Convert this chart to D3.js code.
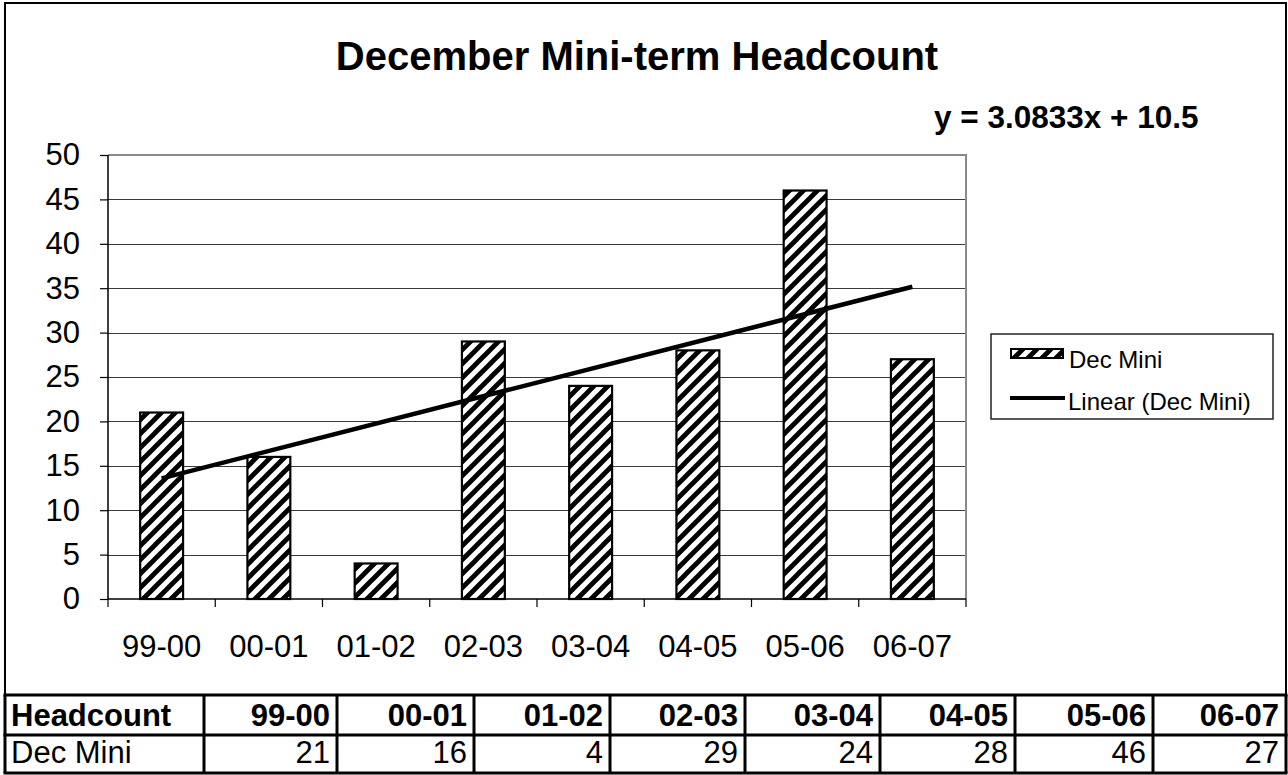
<!DOCTYPE html>
<html>
<head>
<meta charset="utf-8">
<script src="https://cdn.jsdelivr.net/npm/d3@7/dist/d3.min.js"></script>
<style>
  html, body { margin: 0; padding: 0; background: #fff; }
  svg { display: block; font-family: "Liberation Sans", Arial, sans-serif; }
</style>
</head>
<body>
<svg id="chart" width="1288" height="775"></svg>
<script>
// ---- data ----
const chartTitle = "December Mini-term Headcount";
const categories = ["99-00", "00-01", "01-02", "02-03", "03-04", "04-05", "05-06", "06-07"];
const decMini = [21, 16, 4, 29, 24, 28, 46, 27];
const seriesName = "Dec Mini";
const trendName = "Linear (Dec Mini)";
const yTickValues = [0, 5, 10, 15, 20, 25, 30, 35, 40, 45, 50];
const tableHeaderLabel = "Headcount";

// ---- layout ----
const plot = { left: 108, right: 966, top: 155, bottom: 599 };
const svg = d3.select("#chart");

// hatch pattern
const P = 14;
const defs = svg.append("defs");
const pat = defs.append("pattern")
  .attr("id", "hatch").attr("patternUnits", "userSpaceOnUse")
  .attr("width", P).attr("height", P);
pat.append("rect").attr("width", P).attr("height", P).attr("fill", "#fff");
pat.append("path")
  .attr("d", `M${-P/4},${P/4} L${P/4},${-P/4} M0,${P} L${P},0 M${P*3/4},${P*5/4} L${P*5/4},${P*3/4}`)
  .attr("stroke", "#000").attr("stroke-width", 4.8).attr("stroke-linecap", "square");

// outer chart frame
svg.append("rect").attr("x", 5).attr("y", 3).attr("width", 1281).attr("height", 692)
  .attr("fill", "#fff").attr("stroke", "#000").attr("stroke-width", 2);

// scales
const x = d3.scaleBand().domain(categories).range([plot.left, plot.right])
  .paddingInner(0.6).paddingOuter(0.3);
const y = d3.scaleLinear().domain([0, 50]).range([plot.bottom, plot.top]);
const step = x.step();

// gridlines
svg.append("g").selectAll("line").data(yTickValues.filter(v => v > 0 && v < 50)).join("line")
  .attr("x1", plot.left).attr("x2", plot.right)
  .attr("y1", d => Math.round(y(d)) + 0.5).attr("y2", d => Math.round(y(d)) + 0.5)
  .attr("stroke", "#3a3a3a").attr("stroke-width", 1);

// plot border top/right (gray)
svg.append("path")
  .attr("d", `M${plot.left},${plot.top} H${plot.right} V${plot.bottom}`)
  .attr("fill", "none").attr("stroke", "#8a8a8a").attr("stroke-width", 2);

// bars
svg.append("g").selectAll("rect").data(decMini).join("rect")
  .attr("x", (d, i) => x(categories[i]))
  .attr("y", d => y(d))
  .attr("width", x.bandwidth())
  .attr("height", d => y(0) - y(d))
  .attr("fill", "url(#hatch)")
  .attr("stroke", "#000").attr("stroke-width", 2.2);

// y axis
const yAxis = d3.axisLeft(y).tickValues(yTickValues).tickSize(8).tickPadding(20);
const gy = svg.append("g").attr("transform", `translate(${plot.left},0)`).call(yAxis);
gy.select(".domain").attr("stroke", "#000").attr("stroke-width", 1.5).attr("d", `M0,${plot.top}V${plot.bottom}`);
gy.selectAll(".tick line").attr("stroke", "#000").attr("stroke-width", 1.2);
gy.selectAll(".tick text").attr("font-size", 31).attr("fill", "#000")
  .attr("font-family", '"Liberation Sans", Arial, sans-serif');

// x axis (ticks between categories)
const boundaries = d3.range(categories.length + 1).map(i => plot.left + i * step);
svg.append("line").attr("x1", plot.left).attr("x2", plot.right)
  .attr("y1", plot.bottom).attr("y2", plot.bottom).attr("stroke", "#000").attr("stroke-width", 1.5);
svg.append("g").selectAll("line").data(boundaries).join("line")
  .attr("x1", d => d).attr("x2", d => d)
  .attr("y1", plot.bottom).attr("y2", plot.bottom + 8)
  .attr("stroke", "#000").attr("stroke-width", 1.2);
svg.append("g").selectAll("text").data(categories).join("text")
  .attr("x", d => x(d) + x.bandwidth() / 2).attr("y", 657)
  .attr("text-anchor", "middle").attr("font-size", 31).text(d => d);

// linear trend (least squares)
const xs = decMini.map((d, i) => i + 1);
const mx = d3.mean(xs), my = d3.mean(decMini);
const slope = d3.sum(xs, (v, i) => (v - mx) * (decMini[i] - my)) / d3.sum(xs, v => (v - mx) ** 2);
const intercept = my - slope * mx;
const trendPts = xs.map((v, i) => [x(categories[i]) + x.bandwidth() / 2, y(intercept + slope * v)]);
const tp = [trendPts[0], trendPts[trendPts.length - 1]];
svg.append("path").attr("d", d3.line()(tp))
  .attr("stroke", "#000").attr("stroke-width", 4.5).attr("fill", "none");

// equation
const fmt = v => (+v.toFixed(4)).toString();
svg.append("text").attr("x", 934).attr("y", 128)
  .attr("font-size", 31.5).attr("font-weight", "bold")
  .text(`y = ${fmt(slope)}x + ${fmt(intercept)}`);

// title
svg.append("text").attr("x", 637).attr("y", 70).attr("text-anchor", "middle")
  .attr("font-size", 40).attr("font-weight", "bold").text(chartTitle);

// legend
const lg = svg.append("g");
lg.append("rect").attr("x", 991).attr("y", 334).attr("width", 282).attr("height", 85)
  .attr("fill", "#fff").attr("stroke", "#222").attr("stroke-width", 1.5);
lg.append("rect").attr("x", 1011).attr("y", 349).attr("width", 52).attr("height", 9)
  .attr("fill", "url(#hatch)").attr("stroke", "#000").attr("stroke-width", 2);
lg.append("text").attr("x", 1069).attr("y", 368).attr("font-size", 24).text(seriesName);
lg.append("line").attr("x1", 1010).attr("x2", 1065).attr("y1", 398).attr("y2", 398)
  .attr("stroke", "#000").attr("stroke-width", 4);
lg.append("text").attr("x", 1068).attr("y", 410).attr("font-size", 24).text(trendName);

// data table
const colEdges = [5, 204, 337, 474, 610, 745, 880, 1015, 1153, 1286];
const rowEdges = [695, 735, 773];
const tg = svg.append("g");
tg.append("rect").attr("x", colEdges[0]).attr("y", rowEdges[0])
  .attr("width", colEdges[colEdges.length - 1] - colEdges[0]).attr("height", rowEdges[2] - rowEdges[0])
  .attr("fill", "#fff");
tg.selectAll("line.h").data(rowEdges).join("line").attr("class", "h")
  .attr("x1", colEdges[0] - 1.5).attr("x2", colEdges[colEdges.length - 1] + 1.5)
  .attr("y1", d => d).attr("y2", d => d).attr("stroke", "#000").attr("stroke-width", 3);
tg.selectAll("line.v").data(colEdges).join("line").attr("class", "v")
  .attr("x1", d => d).attr("x2", d => d)
  .attr("y1", rowEdges[0]).attr("y2", rowEdges[2]).attr("stroke", "#000").attr("stroke-width", 3);
tg.append("text").attr("x", colEdges[0] + 6).attr("y", 726).attr("font-size", 31)
  .attr("font-weight", "bold").text(tableHeaderLabel);
tg.append("text").attr("x", colEdges[0] + 6).attr("y", 763).attr("font-size", 31).text(seriesName);
tg.selectAll("text.hc").data(categories).join("text").attr("class", "hc")
  .attr("x", (d, i) => colEdges[i + 2] - 7).attr("y", 726).attr("text-anchor", "end")
  .attr("font-size", 31).attr("font-weight", "bold").text(d => d);
tg.selectAll("text.vc").data(decMini).join("text").attr("class", "vc")
  .attr("x", (d, i) => colEdges[i + 2] - 7).attr("y", 763).attr("text-anchor", "end")
  .attr("font-size", 31).text(d => d);
</script>
</body>
</html>
